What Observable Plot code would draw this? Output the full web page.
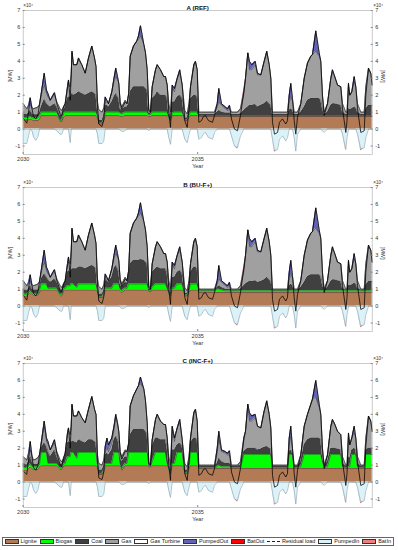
<!DOCTYPE html>
<html><head><meta charset="utf-8">
<script src="https://cdn.jsdelivr.net/npm/d3@7"></script>
<script src="https://cdn.jsdelivr.net/npm/@observablehq/plot@0.6"></script>
<style>
body{margin:0;background:#fff;font-family:"Liberation Sans",Arial,sans-serif;}
#wrap{width:398px;}
#wrap svg{display:block;}
#legend{margin:7px 0 0 2px;width:392px;height:8.5px;border:0.7px solid #666;display:flex;align-items:center;justify-content:space-between;padding:0 2px 0 1.5px;box-sizing:border-box;font-size:5.5px;color:#222;white-space:nowrap;}
#legend .it{display:flex;align-items:center;}
#legend .sw{width:14px;height:4.5px;border:0.5px solid #333;box-sizing:border-box;margin-right:2px;}
#legend .ln{width:13px;height:0;border-top:0.8px dashed #222;margin-right:2px;}
</style></head><body><div id="wrap"></div><script>
// time axis (years)
const years = [
2030.000,2030.103,2030.152,2030.201,2030.252,2030.295,2030.361,2030.424,2030.467,2030.516,
2030.602,2030.668,2030.711,2030.774,2030.840,2030.897,2030.963,2031.060,2031.106,2031.155,
2031.203,2031.269,2031.298,2031.347,2031.375,2031.398,2031.441,2031.536,2031.585,2031.679,
2031.777,2031.871,2031.966,2032.043,2032.086,2032.129,2032.166,2032.258,2032.309,2032.350,
2032.401,2032.444,2032.539,2032.602,2032.653,2032.702,2032.739,2032.779,2032.825,2032.923,
2032.974,2033.023,2033.066,2033.160,2033.255,2033.304,2033.361,2033.456,2033.504,2033.553,
2033.599,2033.648,2033.696,2033.791,2033.840,2033.934,2034.029,2034.077,2034.126,2034.172,
2034.221,2034.269,2034.335,2034.413,2034.487,2034.556,2034.630,2034.699,2034.751,2034.794,
2034.888,2034.937,2034.986,2035.032,2035.109,2035.166,2035.223,2035.309,2035.424,2035.481,
2035.559,2035.605,2035.682,2035.797,2035.854,2035.911,2035.968,2036.054,2036.140,2036.226,
2036.321,2036.370,2036.436,2036.484,2036.550,2036.648,2036.713,2036.808,2036.905,2036.980,
2037.049,2037.095,2037.143,2037.201,2037.287,2037.344,2037.430,2037.524,2037.573,2037.622,
2037.668,2037.716,2037.765,2037.811,2037.860,2037.954,2038.052,2038.146,2038.241,2038.289,
2038.384,2038.481,2038.527,2038.576,2038.625,2038.719,2038.814,2038.862,2038.911,2039.006,
2039.100,2039.149,2039.244,2039.278,2039.321,2039.358,2039.415,2039.484,2039.530,2039.579,
2039.673,2039.771,2039.817,2039.894,2039.960,2040.000];

// all power values in 10^4 MW; stacked tops
// top of the generation stack up to PumpedOut, panels A and B
const totalTopAB = [
1.5,1.2,1.4,1.85,1.3,1.2,1.25,1.3,1.45,2.1,
3.3,2.3,2.1,1.7,1.95,2.15,1.6,1.2,1.1,1.3,
1.5,2.5,2.9,2.5,3.2,4.6,3.8,3.8,4.2,3.8,
3.3,4.2,4.9,4.2,3.7,1.6,1.15,1.0,1.25,1.9,
1.7,1.5,2.2,3.0,3.6,3.1,2.7,1.6,1.3,1.7,
1.5,2.1,4.3,4.9,5.2,5.5,6.1,5.0,4.5,3.5,
1.2,1.0,2.5,3.5,3.8,3.5,3.1,3.1,2.6,1.5,
1.0,2.6,2.4,3.0,3.5,2.6,1.1,0.9,1.5,2.5,
3.8,4.0,3.5,1.0,1.0,1.0,1.0,1.0,1.0,1.0,
1.5,2.4,1.5,1.3,1.2,1.4,1.0,1.0,1.0,1.2,
2.2,3.0,4.5,4.0,3.8,4.0,3.3,3.2,4.0,4.6,
3.8,3.0,1.0,1.0,1.0,1.0,1.0,1.0,1.0,2.0,
2.7,1.8,1.0,1.0,1.0,1.5,3.0,3.9,4.3,4.4,
5.8,4.5,4.0,2.0,1.0,1.5,3.0,3.5,3.2,2.6,
2.5,1.5,1.0,1.0,2.7,2.0,2.2,3.1,2.5,1.5,
1.0,1.0,2.5,3.6,3.3,2.6];
// top of Gas (below PumpedOut), panels A and B
const gasTopAB = [
1.5,1.2,1.3,1.4,1.2,1.2,1.25,1.3,1.45,2.0,
2.6,2.1,1.9,1.7,1.9,2.0,1.6,1.2,1.1,1.3,
1.5,2.4,2.6,2.5,3.2,4.5,3.8,3.8,4.1,3.8,
3.3,4.2,4.9,4.2,3.7,1.6,1.15,1.0,1.25,1.6,
1.6,1.5,2.2,2.8,3.1,2.9,2.7,1.6,1.3,1.7,
1.5,2.1,4.3,4.9,5.2,5.3,5.5,5.0,4.5,3.5,
1.2,1.0,2.5,3.5,3.8,3.5,3.1,3.1,2.6,1.5,
1.0,2.4,2.2,3.0,3.3,2.6,1.1,0.9,1.5,2.5,
3.7,3.9,3.5,1.0,1.0,1.0,1.0,1.0,1.0,1.0,
1.3,1.6,1.4,1.2,1.1,1.15,1.0,1.0,1.0,1.2,
2.0,3.0,4.5,3.5,3.5,3.8,3.2,3.2,4.0,4.5,
3.8,3.0,1.0,1.0,1.0,1.0,1.0,1.0,1.0,1.6,
1.8,1.7,1.0,1.0,1.0,1.5,3.0,3.9,4.3,4.4,
4.6,4.3,4.0,2.0,1.0,1.5,3.0,3.3,3.2,2.6,
2.5,1.5,1.0,1.0,2.5,2.0,2.2,2.8,2.5,1.5,
1.0,1.0,2.5,3.5,3.3,2.6];
const totalTopC = [
1.5,1.3,1.7,2.4,1.6,1.3,1.35,1.45,1.6,2.3,
3.6,2.6,2.4,1.9,2.2,2.5,1.8,1.3,1.2,1.4,
1.7,2.9,3.2,2.8,3.3,4.6,3.9,3.9,4.2,3.8,
3.5,4.3,5.05,4.3,4.0,1.6,1.1,1.0,1.3,2.1,
2.6,2.2,2.6,3.3,4.0,3.5,3.0,1.8,1.5,1.9,
1.8,2.3,4.5,5.1,5.5,5.7,6.2,5.5,4.8,3.5,
1.2,1.0,2.5,3.7,4.0,3.6,3.4,3.4,2.6,1.5,
1.0,3.3,2.6,3.2,3.7,2.5,1.1,0.9,1.5,2.6,
4.1,4.3,3.6,1.0,1.0,1.0,1.0,1.0,1.0,1.0,
2.0,3.0,1.9,1.8,1.7,1.85,1.0,1.0,1.0,1.2,
2.6,3.0,4.6,4.1,3.9,4.0,3.3,3.2,4.2,4.8,
4.0,3.2,1.0,1.0,1.0,1.0,1.0,1.0,1.0,2.6,
3.3,2.0,1.0,1.0,1.0,1.6,3.3,4.0,4.6,4.9,
6.0,4.6,4.0,2.0,1.0,1.6,3.3,3.7,3.5,3.0,
2.8,1.5,1.0,1.0,2.9,2.2,2.6,3.3,2.6,1.5,
1.0,1.0,2.6,3.9,3.6,3.0];
const gasTopC = [
1.5,1.3,1.5,1.9,1.5,1.3,1.35,1.45,1.6,2.2,
3.3,2.4,2.2,1.9,2.1,2.3,1.8,1.3,1.2,1.4,
1.7,2.8,3.0,2.8,3.3,4.55,3.9,3.9,4.2,3.8,
3.5,4.3,5.05,4.3,4.0,1.6,1.1,1.0,1.3,1.8,
2.0,1.8,2.3,3.1,3.8,3.4,3.0,1.8,1.5,1.9,
1.8,2.3,4.5,5.1,5.5,5.7,5.8,5.5,4.8,3.5,
1.2,1.0,2.5,3.7,4.0,3.6,3.4,3.4,2.6,1.5,
1.0,3.1,2.4,3.2,3.5,2.5,1.1,0.9,1.5,2.6,
4.0,4.2,3.6,1.0,1.0,1.0,1.0,1.0,1.0,1.0,
1.7,2.5,1.8,1.7,1.6,1.6,1.0,1.0,1.0,1.2,
2.4,3.0,4.6,3.6,3.6,3.8,3.3,3.2,4.2,4.7,
4.0,3.2,1.0,1.0,1.0,1.0,1.0,1.0,1.0,2.2,
2.7,1.9,1.0,1.0,1.0,1.6,3.3,4.0,4.6,4.9,
5.0,4.4,4.0,2.0,1.0,1.6,3.3,3.5,3.5,3.0,
2.8,1.5,1.0,1.0,2.7,2.2,2.6,2.9,2.6,1.5,
1.0,1.0,2.6,3.9,3.6,3.0];
// PumpedIn (negative), all panels
const pumpedIn = [
-0.85,-0.85,-0.4,0,-0.1,-0.45,-0.67,-0.45,0,0,
0,0,0,0,0,0,-0.1,-0.3,-0.3,0,
0,0,0,-0.8,0,0,0,0,0,0,
0,0,0,0,0,-0.3,-0.85,-0.85,-0.7,0,
0,0,0,0,0,0,0,-0.05,-0.15,-0.1,
0,0,0,0,0,0,0,0,0,0,
-0.1,0,0,0,0,0,0,0,0,-0.5,
-0.9,0,0,0,0,0,-0.6,-0.8,-0.3,0,
0,0,0,-0.6,-0.5,-0.25,-0.2,-0.5,-0.6,-0.2,
0,0,0,0,0,0,-0.4,-1.0,-1.1,-0.4,
0,0,0,0,0,0,0,0,0,0,
0,0,-0.6,-1.3,-1.2,-0.6,-0.4,-0.7,-0.5,0,
0,0,-0.5,-1.3,-0.3,0,0,0,0,0,
0,0,0,-0.1,-0.2,0,0,0,0,0,
0,-0.3,-1.2,-0.5,0,0,0,0,0,-0.3,
-1.2,-1.1,-0.5,0,0,0];
// BatIn (negative, below PumpedIn), all panels
const batIn = [
0,0,0,0,0,0,0,0,0,0,
0,0,0,0,0,0,0,0,0,0,
0,0,0,0,0,0,0,0,0,0,
0,0,0,0,0,0,0,0,0,0,
0,0,0,0,0,0,0,0,0,0,
0,0,0,0,0,0,0,0,0,0,
0,0,0,0,0,0,0,0,0,0,
0,0,0,0,0,0,0,0,0,0,
0,0,0,0,0,0,0,0,0,0,
0,0,0,0,0,0,0,0,-0.09,0,
0,0,0,0,0,0,0,0,0,0,
0,0,0,-0.07,0,0,0,0,0,0,
0,0,0,0,0,0,0,0,0,0,
0,0,0,0,0,0,0,0,0,0,
0,0,-0.09,0,0,0,0,0,0,0,
-0.09,0,0,0,0,0];
// BatOut (on top of the stack), panels A and B
const batOutAB = [
0,0,0,0,0,0,0,0,0,0,
0,0,0,0,0,0,0,0,0,0,
0,0,0,0,0,0,0,0,0,0,
0,0,0,0,0,0,0,0,0,0,
0,0,0,0,0,0,0,0,0,0,
0,0,0,0,0,0,0,0,0,0,
0,0,0,0,0,0,0,0,0,0,
0,0,0,0,0,0,0,0,0,0,
0,0,0,0,0,0,0,0,0,0,
0,0,0,0,0,0,0,0,0,0,
0.12,0,0,0,0,0,0,0,0,0,
0,0,0,0,0,0,0,0,0,0,
0,0,0,0,0,0,0,0,0,0,
0,0,0,0,0,0,0,0,0,0,
0,0,0,0,0.1,0,0,0,0,0,
0,0,0,0,0,0];
// Residual load line
const residualAB = [
0.65,0.35,1.0,1.85,1.2,0.75,0.6,0.85,1.45,2.1,
3.3,2.3,2.1,1.7,1.95,2.15,1.5,0.9,0.8,1.3,
1.5,2.5,2.9,1.7,3.2,4.6,3.8,3.8,4.2,3.8,
3.3,4.2,4.9,4.2,3.7,1.3,0.3,0.15,0.55,1.9,
1.7,1.5,2.2,3.0,3.6,3.1,2.7,1.55,1.15,1.6,
1.5,2.1,4.3,4.9,5.2,5.5,6.1,5.0,4.5,3.5,
1.1,1.0,2.5,3.5,3.8,3.5,3.1,3.1,2.6,1.0,
0.1,2.6,2.4,3.0,3.5,2.6,0.5,0.1,1.2,2.5,
3.8,4.0,3.5,0.4,0.5,0.75,0.8,0.5,0.4,0.8,
1.5,2.4,1.5,1.3,1.2,1.4,0.6,0.0,-0.1,0.8,
2.2,3.0,4.5,4.0,3.8,4.0,3.3,3.2,4.0,4.6,
3.8,3.0,0.4,-0.3,-0.2,0.4,0.6,0.3,0.5,2.0,
2.7,1.8,0.5,-0.3,0.7,1.5,3.0,3.9,4.3,4.4,
5.8,4.5,4.0,1.9,0.8,1.5,3.0,3.5,3.2,2.6,
2.5,1.2,-0.2,0.5,2.7,2.0,2.2,3.1,2.5,1.2,
-0.2,-0.1,2.0,3.6,3.3,2.6];
const residualC = [
0.65,0.45,1.3,2.4,1.5,0.85,0.7,1.0,1.6,2.3,
3.6,2.6,2.4,1.9,2.2,2.5,1.7,1.0,0.9,1.4,
1.7,2.9,3.2,2.0,3.3,4.6,3.9,3.9,4.2,3.8,
3.5,4.3,5.05,4.3,4.0,1.3,0.25,0.15,0.6,2.1,
2.6,2.2,2.6,3.3,4.0,3.5,3.0,1.75,1.35,1.8,
1.8,2.3,4.5,5.1,5.5,5.7,6.2,5.5,4.8,3.5,
1.1,1.0,2.5,3.7,4.0,3.6,3.4,3.4,2.6,1.0,
0.1,3.3,2.6,3.2,3.7,2.5,0.5,0.1,1.2,2.6,
4.1,4.3,3.6,0.4,0.5,0.75,0.8,0.5,0.4,0.8,
2.0,3.0,1.9,1.8,1.7,1.85,0.6,0.0,-0.1,0.8,
2.6,3.0,4.6,4.1,3.9,4.0,3.3,3.2,4.2,4.8,
4.0,3.2,0.4,-0.3,-0.2,0.4,0.6,0.3,0.5,2.6,
3.3,2.0,0.5,-0.3,0.7,1.6,3.3,4.0,4.6,4.9,
6.0,4.6,4.0,1.9,0.8,1.6,3.3,3.7,3.5,3.0,
2.8,1.2,-0.2,0.5,2.9,2.2,2.6,3.3,2.6,1.2,
-0.2,-0.1,2.1,3.9,3.6,3.0];

// Panel A (REF) layers
const ligniteA = [
.55,.55,.55,.6,.55,.5,.5,.5,.6,.8,
.8,.8,.8,.8,.8,.8,.8,.45,.45,.7,
.8,.8,.8,.8,.8,.8,.8,.8,.8,.8,
.8,.8,.8,.8,.8,.6,.3,.3,.5,.8,
.8,.8,.8,.8,.8,.8,.8,.75,.75,.8,
.8,.8,.8,.8,.8,.8,.8,.8,.8,.8,
.75,.75,.8,.8,.8,.8,.8,.8,.8,.6,
.5,.8,.8,.8,.8,.8,.5,.5,.7,.8,
.8,.8,.8,.76,.76,.76,.76,.76,.76,.76,
.76,.76,.76,.76,.76,.76,.76,.76,.76,.76,
.76,.76,.76,.76,.76,.76,.76,.76,.76,.76,
.76,.76,.76,.76,.76,.76,.76,.76,.76,.76,
.76,.76,.76,.76,.76,.76,.76,.76,.76,.76,
.76,.76,.76,.76,.76,.76,.76,.76,.76,.76,
.76,.76,.76,.76,.76,.76,.76,.76,.76,.76,
.76,.76,.76,.76,.76,.76];
const biogasTopA = [
.68,.68,.7,.75,.68,.65,.65,.65,.75,1,
1,1,1,1,1,1,1,.52,.52,.9,
1,1,1,1,1,1,1,1,1,1,
1,1,1,1,1,.8,.35,.35,.6,.95,
1,1,1,1,1,1,1,.95,.9,1,
1,1,1,1,1,1,1,1,1,1,
.85,.85,1,1,1,1,1,1,1,.7,
.55,.95,1,1,1,1,.55,.55,.8,1,
1,1,1,.76,.76,.76,.76,.76,.76,.76,
.76,.76,.76,.76,.76,.76,.76,.76,.76,.76,
.76,.76,.76,.76,.76,.76,.76,.76,.76,.76,
.76,.76,.76,.76,.76,.76,.76,.76,.76,.76,
.76,.76,.76,.76,.76,.76,.76,.76,.76,.76,
.76,.76,.76,.76,.76,.76,.76,.76,.76,.76,
.76,.76,.76,.76,.76,.76,.76,.76,.76,.76,
.76,.76,.76,.76,.76,.76];
const coalTopA = [
.9,.85,.95,1.1,.9,.85,.85,.85,.95,1.3,
1.75,1.5,1.4,1.3,1.4,1.5,1.3,.8,.8,1.1,
1.3,1.8,1.9,1.9,2.0,2.1,2.0,2.1,2.2,2.1,
2.0,2.1,2.2,2.1,2.0,1.1,.5,.5,.8,1.4,
1.4,1.3,1.6,1.9,2.1,1.9,1.8,1.2,1.1,1.3,
1.3,1.5,2.2,2.5,2.5,2.5,2.5,2.5,2.4,2.3,
.95,.95,1.8,2.0,2.2,2.0,2.0,2.0,1.8,.9,
.65,1.6,1.6,1.9,2.0,1.8,.65,.65,1.1,1.8,
2.0,2.0,1.9,.86,.86,.86,.86,.86,.86,.86,
1.0,1.1,1.0,.95,.95,.95,.86,.86,.86,.9,
1.1,1.2,1.3,1.4,1.4,1.45,1.3,1.4,1.5,1.65,
1.5,1.4,.86,.86,.86,.86,.86,.86,.86,1.1,
1.2,1.1,.86,.86,.86,1.0,1.3,1.7,1.8,1.8,
1.8,1.8,1.7,1.2,.86,1.0,1.4,1.5,1.5,1.45,
1.4,1.0,.86,.86,1.2,1.15,1.2,1.3,1.25,1.0,
.86,.86,1.2,1.4,1.4,1.4];

// Panel B (BU-F+) layers
const ligniteB = [
.6,.6,.7,.8,.7,.65,.65,.65,.8,.95,
.95,.95,.95,.95,.95,.95,.95,.6,.6,.9,
.95,.95,.95,.95,.95,.95,.95,.95,.95,.95,
.95,.95,.95,.95,.95,.8,.5,.5,.6,.95,
.95,.95,.95,.95,.95,.95,.95,.9,.8,.95,
.95,.95,.95,.95,.95,.95,.95,.95,.95,.95,
.85,.85,.95,.95,.95,.95,.95,.95,.95,.7,
.6,.95,.95,.95,.95,.95,.6,.6,.8,.95,
.95,.95,.95,.8,.8,.8,.8,.8,.8,.8,
.8,.8,.8,.8,.8,.8,.8,.8,.8,.8,
.8,.8,.8,.8,.8,.8,.8,.8,.8,.8,
.8,.8,.8,.8,.8,.8,.8,.8,.8,.8,
.8,.8,.8,.8,.8,.8,.8,.8,.8,.8,
.8,.8,.8,.8,.8,.8,.8,.8,.8,.8,
.8,.8,.8,.8,.8,.8,.8,.8,.8,.8,
.8,.8,.8,.8,.8,.8];
const biogasTopB = [
.7,.7,.8,.9,.8,.75,.75,.75,.9,1.3,
1.3,1.3,1.05,1.05,1.05,1.05,1.05,.7,.7,1.0,
1.05,1.2,1.2,1.2,1.3,1.3,1.3,1.1,1.3,1.3,
1.3,1.3,1.3,1.3,1.3,.9,.55,.55,.7,1.05,
1.05,1.05,1.05,1.3,1.3,1.3,1.3,1.0,.9,1.05,
1.05,1.3,1.3,1.3,1.3,1.3,1.3,1.3,1.3,1.3,
.9,.9,1.1,1.3,1.3,1.3,1.3,1.3,1.05,.8,
.65,1.05,1.05,1.3,1.3,1.3,.65,.65,.9,1.3,
1.3,1.3,1.3,.9,.9,.9,.9,.9,.9,.9,
1.0,1.0,.95,.9,.9,.9,.9,.9,.9,.9,
.9,.9,.9,.9,.9,.9,.9,.9,.9,.9,
.9,.9,.9,.9,.9,.9,.9,.9,.9,.9,
.9,.9,.9,.9,.9,.9,.9,.9,.9,.9,
.9,.9,.9,.9,.9,.9,.9,.9,.9,.9,
.9,.9,.9,.9,.9,.9,.9,.9,.9,.9,
.9,.9,.9,.9,.9,.9];
const coalTopB = [
1.0,.9,1.0,1.2,1.0,.95,.95,.95,1.05,1.6,
1.9,1.7,1.55,1.4,1.5,1.6,1.4,.95,.95,1.2,
1.4,2.0,2.1,2.0,2.1,2.2,2.2,2.2,2.3,2.3,
2.2,2.3,2.4,2.3,2.2,1.1,.7,.7,.9,1.5,
1.5,1.4,1.7,2.2,2.4,2.2,2.0,1.3,1.1,1.4,
1.35,1.8,2.5,2.7,2.7,2.7,2.75,2.7,2.6,2.5,
.98,.98,2.0,2.2,2.3,2.2,2.2,2.2,1.9,1.0,
.75,1.7,1.7,2.0,2.1,1.9,.75,.75,1.1,2.0,
2.3,2.3,2.2,.95,.95,.95,.95,.95,.95,.95,
1.1,1.2,1.1,1.0,1.0,1.0,.95,.95,.95,1.0,
1.2,1.3,1.4,1.45,1.45,1.5,1.4,1.45,1.55,1.7,
1.55,1.45,.95,.95,.95,.95,.95,.95,.95,1.2,
1.3,1.2,.95,.95,.95,1.1,1.4,1.75,1.85,1.85,
1.85,1.85,1.75,1.25,.95,1.1,1.45,1.55,1.55,1.5,
1.45,1.05,.95,.95,1.25,1.2,1.25,1.35,1.3,1.05,
.95,.95,1.25,1.45,1.45,1.45];

// Panel C (INC-F+) layers
const ligniteC = [
.7,.7,.8,.9,.8,.75,.75,.75,.9,.97,
.97,.97,.97,.97,.97,.97,.97,.75,.75,.95,
.97,.97,.97,.97,.97,.97,.97,.97,.97,.97,
.97,.97,.97,.97,.97,.8,.45,.45,.6,.97,
.97,.97,.97,.97,.97,.97,.97,.97,.7,.97,
.97,.97,.97,.97,.97,.97,.97,.97,.97,.97,
.9,.9,.97,.97,.97,.97,.97,.97,.97,.7,
.5,.97,.97,.97,.97,.97,.5,.5,.8,.97,
.97,.97,.97,.8,.8,.8,.8,.8,.8,.8,
.8,.8,.8,.8,.8,.8,.8,.8,.8,.8,
.8,.8,.8,.8,.8,.8,.8,.8,.8,.8,
.8,.8,.8,.8,.8,.8,.8,.8,.8,.8,
.8,.8,.8,.8,.8,.8,.8,.8,.8,.8,
.8,.8,.8,.8,.8,.8,.8,.8,.8,.8,
.8,.8,.8,.8,.8,.8,.8,.8,.8,.8,
.8,.8,.8,.8,.8,.8];
const biogasTopC = [
.85,.85,.95,1.1,.95,.9,.9,.9,1.05,1.75,
1.75,1.75,1.1,1.1,1.1,1.1,1.1,.85,.85,1.05,
1.1,1.5,1.5,1.5,1.75,1.75,1.75,1.4,1.75,1.75,
1.75,1.75,1.75,1.75,1.75,1.0,.5,.5,.7,1.1,
1.1,1.1,1.1,1.75,1.75,1.75,1.75,1.1,.8,1.1,
1.1,1.75,1.75,1.75,1.75,1.75,1.75,1.75,1.75,1.75,
.95,.95,1.2,1.75,1.75,1.75,1.75,1.75,1.1,.8,
.55,1.1,1.1,1.75,1.75,1.75,.55,.55,.9,1.75,
1.75,1.75,1.75,.85,.85,.85,.85,.85,.85,.85,
.9,1.0,.9,.9,.9,.9,.85,.85,.85,.85,
1.63,1.63,1.63,1.63,1.63,1.63,1.63,1.63,1.63,1.63,
1.63,1.63,.85,.85,.85,.85,.85,.85,.85,1.63,
1.63,1.63,.85,.85,.85,.9,1.63,1.63,1.63,1.63,
1.63,1.63,1.63,1.2,.85,.9,1.63,1.63,1.63,1.63,
1.63,.9,.85,.85,.9,.9,1.63,1.63,1.63,.9,
.85,.85,1.63,1.63,1.63,1.63];
const coalTopC = [
1.1,1.0,1.2,1.5,1.2,1.05,1.05,1.05,1.25,2.0,
2.3,2.1,1.8,1.5,1.7,1.9,1.5,1.05,1.05,1.3,
1.5,2.3,2.4,2.3,2.3,2.4,2.4,2.3,2.5,2.4,
2.3,2.5,2.5,2.4,2.3,1.2,.7,.7,.95,1.6,
1.7,1.6,1.9,2.5,2.7,2.5,2.3,1.4,1.2,1.5,
1.45,2.1,2.8,3.1,3.1,3.1,3.1,3.1,3.0,2.8,
1.0,1.0,2.1,2.6,2.6,2.5,2.5,2.5,2.0,1.0,
.7,1.9,1.9,2.2,2.3,2.1,.7,.7,1.2,2.3,
2.6,2.6,2.5,.95,.95,.95,.95,.95,.95,.95,
1.1,1.4,1.2,1.1,1.1,1.1,.95,.95,.95,1.0,
1.8,1.9,2.0,2.0,2.0,2.0,1.9,1.95,2.05,2.1,
2.0,1.95,.95,.95,.95,.95,.95,.95,.95,1.8,
1.9,1.7,.95,.95,.95,1.2,2.2,2.5,2.6,2.6,
2.6,2.6,2.5,1.5,.95,1.2,2.0,2.0,2.0,1.95,
1.9,1.1,.95,.95,1.5,1.4,1.9,2.0,1.9,1.1,
.95,.95,1.9,2.0,2.0,2.0];

const yTicks = [-1, 0, 1, 2, 3, 4, 5, 6, 7];
const xTicks = [2030, 2035];
const legendNames = ["Lignite","Biogas","Coal","Gas","Gas Turbine","PumpedOut","BatOut","Residual load","PumpedIn","BatIn"];
const legendColors = ["#b27a55","#00ff00","#404040","#a0a0a0","#ffffff","#6262b8","#ff0000","#000000","#dbf2f9","#f08080"];
const COL = Object.fromEntries(legendNames.map((n, i) => [n, legendColors[i]]));
const noBatOut = batOutAB.map(() => 0);

// sanity check
const all = {totalTopAB,gasTopAB,totalTopC,gasTopC,pumpedIn,batIn,batOutAB,residualAB,residualC,ligniteA,biogasTopA,coalTopA,ligniteB,biogasTopB,coalTopB,ligniteC,biogasTopC,coalTopC};
const bad = Object.entries(all).filter(([k, v]) => v.length !== years.length).map(([k, v]) => k + ":" + v.length);
if (bad.length) throw new Error("length mismatch " + years.length + " " + bad.join(","));

const panels = [
  {title: "A (REF)", lig: ligniteA, bio: biogasTopA, coal: coalTopA, gas: gasTopAB, tot: totalTopAB, bo: batOutAB, res: residualAB, h: 177},
  {title: "B (BU-F+)", lig: ligniteB, bio: biogasTopB, coal: coalTopB, gas: gasTopAB, tot: totalTopAB, bo: batOutAB, res: residualAB, h: 176},
  {title: "C (INC-F+)", lig: ligniteC, bio: biogasTopC, coal: coalTopC, gas: gasTopC, tot: totalTopC, bo: noBatOut, res: residualC, h: 177}
];

const wrap = document.getElementById("wrap");
const edge = "#383838";
for (const p of panels) {
  const rows = years.map((t, i) => ({t, L: p.lig[i], B: p.bio[i], C: p.coal[i], G: p.gas[i], T: p.tot[i],
    BO: p.bo[i], P: pumpedIn[i], BI: batIn[i], R: p.res[i]}));
  const chart = Plot.plot({
    width: 398, height: p.h,
    marginLeft: 22.7, marginRight: 26.3, marginTop: 10, marginBottom: p.h - 154,
    style: {fontFamily: "'Liberation Sans', Arial, sans-serif", fontSize: "5.5px", color: "#333", background: "#fff", overflow: "visible"},
    x: {domain: [2030, 2040]},
    y: {domain: [-1.5, 7]},
    marks: [
      Plot.areaY(rows, {x: "t", y1: 0, y2: "L", fill: COL["Lignite"]}),
      Plot.areaY(rows, {x: "t", y1: "L", y2: "B", fill: COL["Biogas"]}),
      Plot.areaY(rows, {x: "t", y1: "B", y2: "C", fill: COL["Coal"]}),
      Plot.areaY(rows, {x: "t", y1: "C", y2: "G", fill: COL["Gas"]}),
      Plot.areaY(rows, {x: "t", y1: "G", y2: "T", fill: COL["PumpedOut"]}),
      Plot.areaY(rows, {x: "t", y1: "T", y2: d => d.T + d.BO, fill: COL["BatOut"]}),
      Plot.areaY(rows, {x: "t", y1: 0, y2: "P", fill: COL["PumpedIn"]}),
      Plot.areaY(rows, {x: "t", y1: "P", y2: d => d.P + d.BI, fill: COL["BatIn"]}),
      Plot.lineY(rows, {x: "t", y: "P", stroke: "#7f9ca8", strokeWidth: 0.6}),
      Plot.lineY(rows, {x: "t", y: "L", stroke: edge, strokeWidth: 0.5}),
      Plot.lineY(rows, {x: "t", y: "B", stroke: edge, strokeWidth: 0.5}),
      Plot.lineY(rows, {x: "t", y: "C", stroke: edge, strokeWidth: 0.5}),
      Plot.lineY(rows, {x: "t", y: "G", stroke: edge, strokeWidth: 0.5}),
      Plot.lineY(rows, {x: "t", y: "T", stroke: "#2a2a2a", strokeWidth: 0.55}),
      Plot.ruleY([0], {stroke: "#555", strokeWidth: 0.4}),
      Plot.lineY(rows, {x: "t", y: "R", stroke: COL["Residual load"], strokeWidth: 0.75}),
      Plot.frame({stroke: "#b5b5b5", strokeWidth: 0.7}),
      Plot.axisY(yTicks, {anchor: "left", tickSize: -2, tickPadding: 5, tickFormat: d => String(d), label: null, stroke: "#888"}),
      Plot.axisY(yTicks, {anchor: "right", tickSize: -2, tickPadding: 5, tickFormat: d => String(d), label: null, stroke: "#888"}),
      Plot.axisX(xTicks, {anchor: "bottom", tickSize: -2, tickPadding: 5, tickFormat: d => String(d), label: null, stroke: "#888"}),
      Plot.text([p.title], {frameAnchor: "top", dy: -5, fontWeight: "bold", fontSize: 6.2, fill: "#111"}),
      Plot.text(["\u00d710\u2074"], {frameAnchor: "top-left", dy: -7, textAnchor: "start", fontSize: 4.6}),
      Plot.text(["\u00d710\u2074"], {frameAnchor: "top-right", dx: 1, dy: -7, textAnchor: "start", fontSize: 4.6}),
      Plot.text(["[MW]"], {frameAnchor: "left", dx: -12.7, rotate: -90, fontSize: 5.5}),
      Plot.text(["[MW]"], {frameAnchor: "right", dx: 11, rotate: 90, fontSize: 5.5}),
      Plot.text(["Year"], {frameAnchor: "bottom", dy: 13, fontSize: 5.5})
    ]
  });
  wrap.appendChild(chart);
}

// legend
const lg = document.createElement("div");
lg.id = "legend";
legendNames.forEach((n, i) => {
  const it = document.createElement("div");
  it.className = "it";
  const sw = document.createElement("span");
  if (n === "Residual load") { sw.className = "ln"; }
  else { sw.className = "sw"; sw.style.background = legendColors[i]; }
  const tx = document.createElement("span");
  tx.textContent = n;
  it.appendChild(sw); it.appendChild(tx);
  lg.appendChild(it);
});
wrap.appendChild(lg);
</script></body></html>
